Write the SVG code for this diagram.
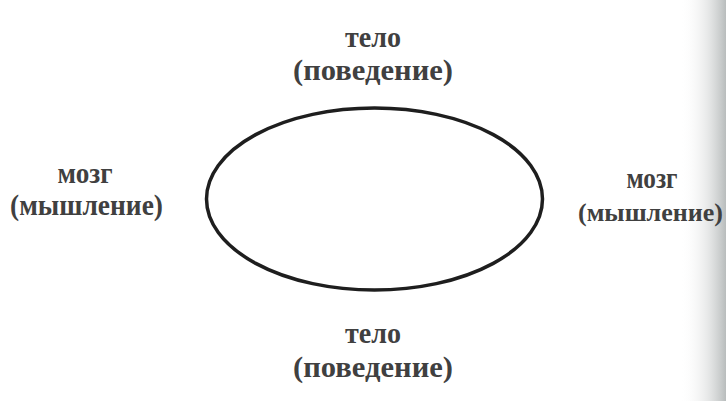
<svg xmlns="http://www.w3.org/2000/svg" width="726" height="401" viewBox="0 0 726 401">
<defs>
<linearGradient id="gutter" x1="0" y1="0" x2="1" y2="0">
<stop offset="0" stop-color="#ffffff" stop-opacity="0"/>
<stop offset="0.6" stop-color="#d8dada" stop-opacity="0.6"/>
<stop offset="1" stop-color="#b8bcbc"/>
</linearGradient>
</defs>
<style>
.lbl{font-family:"Liberation Serif","DejaVu Serif",serif;font-size:29px;fill:#404040;text-anchor:middle;font-weight:bold}
.ring{fill:none;stroke:#1e1e1e;stroke-width:3.5}
</style>
<rect x="0" y="0" width="726" height="401" fill="#ffffff"/>
<rect x="680" y="0" width="46" height="401" fill="url(#gutter)"/>
<g id="connectors">
<ellipse class="ring" cx="374.5" cy="199" rx="168" ry="91"/>
</g>
<g id="top">
<text class="lbl" x="373" y="47" textLength="56" lengthAdjust="spacingAndGlyphs">тело</text>
<text class="lbl" x="373" y="80" textLength="160" lengthAdjust="spacingAndGlyphs">(поведение)</text>
</g>
<g id="left">
<text class="lbl" x="85" y="183" textLength="55" lengthAdjust="spacingAndGlyphs">мозг</text>
<text class="lbl" x="86.5" y="215" textLength="153" lengthAdjust="spacingAndGlyphs">(мышление)</text>
</g>
<g id="right">
<text class="lbl" x="652" y="188" textLength="51" lengthAdjust="spacingAndGlyphs">мозг</text>
<text class="lbl" x="578" y="221" style="text-anchor:start;font-size:26px">(мышление)</text>
</g>
<g id="bottom">
<text class="lbl" x="373" y="343" textLength="56" lengthAdjust="spacingAndGlyphs">тело</text>
<text class="lbl" x="373" y="377" textLength="160" lengthAdjust="spacingAndGlyphs">(поведение)</text>
</g>
</svg>
